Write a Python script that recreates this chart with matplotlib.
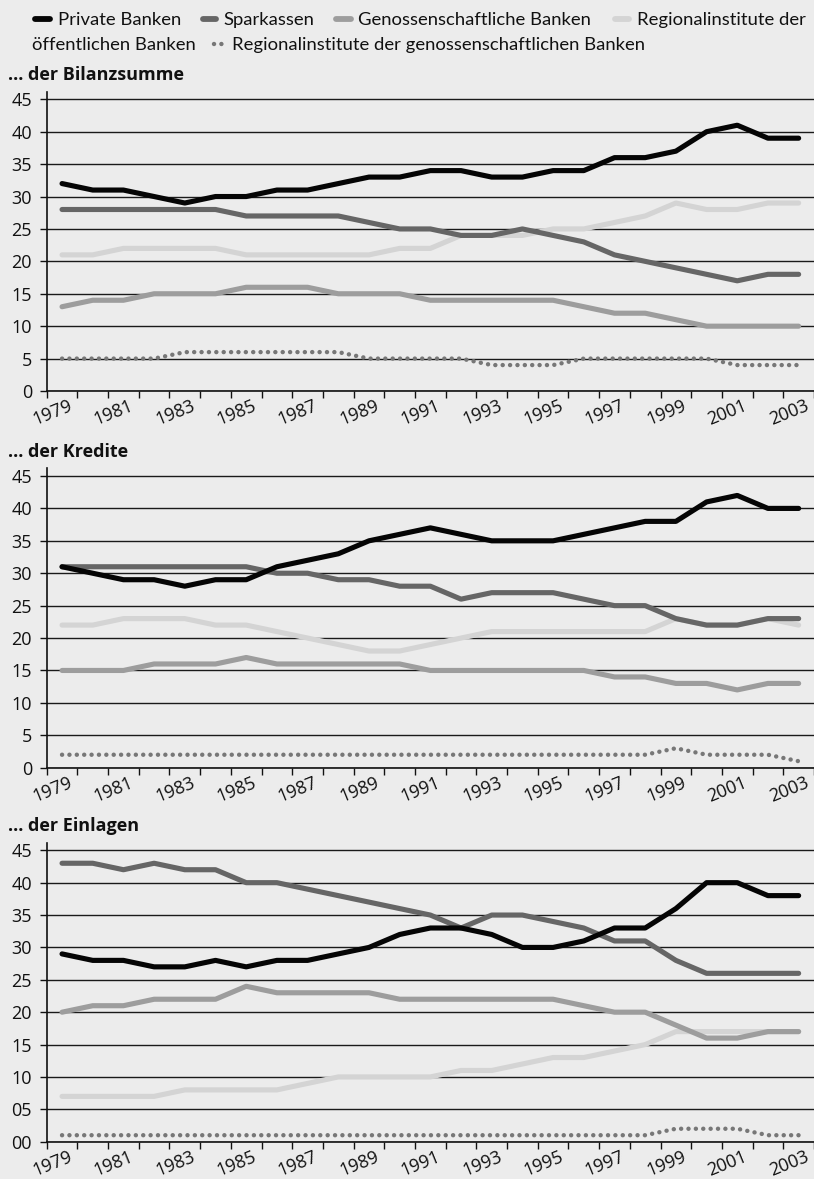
import numpy as np
import matplotlib.pyplot as plt
from matplotlib.lines import Line2D
from matplotlib.transforms import ScaledTranslation

years = [1979, 1980, 1981, 1982, 1983, 1984, 1985, 1986, 1987, 1988, 1989, 1990,
         1991, 1992, 1993, 1994, 1995, 1996, 1997, 1998, 1999, 2000, 2001, 2002, 2003]

names = ["Private Banken", "Sparkassen", "Genossenschaftliche Banken",
         "Regionalinstitute der öffentlichen Banken",
         "Regionalinstitute der genossenschaftlichen Banken"]

# ... der Bilanzsumme
bil_private = [32, 31, 31, 30, 29, 30, 30, 31, 31, 32, 33, 33, 34, 34, 33, 33, 34, 34, 36, 36, 37, 40, 41, 39, 39]
bil_spark = [28, 28, 28, 28, 28, 28, 27, 27, 27, 27, 26, 25, 25, 24, 24, 25, 24, 23, 21, 20, 19, 18, 17, 18, 18]
bil_genos = [13, 14, 14, 15, 15, 15, 16, 16, 16, 15, 15, 15, 14, 14, 14, 14, 14, 13, 12, 12, 11, 10, 10, 10, 10]
bil_reg_oeff = [21, 21, 22, 22, 22, 22, 21, 21, 21, 21, 21, 22, 22, 24, 24, 24, 25, 25, 26, 27, 29, 28, 28, 29, 29]
bil_reg_gen = [5, 5, 5, 5, 6, 6, 6, 6, 6, 6, 5, 5, 5, 5, 4, 4, 4, 5, 5, 5, 5, 5, 4, 4, 4]

# ... der Kredite
kre_private = [31, 30, 29, 29, 28, 29, 29, 31, 32, 33, 35, 36, 37, 36, 35, 35, 35, 36, 37, 38, 38, 41, 42, 40, 40]
kre_spark = [31, 31, 31, 31, 31, 31, 31, 30, 30, 29, 29, 28, 28, 26, 27, 27, 27, 26, 25, 25, 23, 22, 22, 23, 23]
kre_genos = [15, 15, 15, 16, 16, 16, 17, 16, 16, 16, 16, 16, 15, 15, 15, 15, 15, 15, 14, 14, 13, 13, 12, 13, 13]
kre_reg_oeff = [22, 22, 23, 23, 23, 22, 22, 21, 20, 19, 18, 18, 19, 20, 21, 21, 21, 21, 21, 21, 23, 22, 22, 23, 22]
kre_reg_gen = [2, 2, 2, 2, 2, 2, 2, 2, 2, 2, 2, 2, 2, 2, 2, 2, 2, 2, 2, 2, 3, 2, 2, 2, 1]

# ... der Einlagen
ein_private = [29, 28, 28, 27, 27, 28, 27, 28, 28, 29, 30, 32, 33, 33, 32, 30, 30, 31, 33, 33, 36, 40, 40, 38, 38]
ein_spark = [43, 43, 42, 43, 42, 42, 40, 40, 39, 38, 37, 36, 35, 33, 35, 35, 34, 33, 31, 31, 28, 26, 26, 26, 26]
ein_genos = [20, 21, 21, 22, 22, 22, 24, 23, 23, 23, 23, 22, 22, 22, 22, 22, 22, 21, 20, 20, 18, 16, 16, 17, 17]
ein_reg_oeff = [7, 7, 7, 7, 8, 8, 8, 8, 9, 10, 10, 10, 10, 11, 11, 12, 13, 13, 14, 15, 17, 17, 17, 17, 17]
ein_reg_gen = [1, 1, 1, 1, 1, 1, 1, 1, 1, 1, 1, 1, 1, 1, 1, 1, 1, 1, 1, 1, 2, 2, 2, 1, 1]

panels = [
    ("... der Bilanzsumme", [bil_private, bil_spark, bil_genos, bil_reg_oeff, bil_reg_gen]),
    ("... der Kredite", [kre_private, kre_spark, kre_genos, kre_reg_oeff, kre_reg_gen]),
    ("... der Einlagen", [ein_private, ein_spark, ein_genos, ein_reg_oeff, ein_reg_gen]),
]

colors = ["#050505", "#666666", "#9d9d9d", "#d4d4d4", "#777777"]
bg = "#ececec"
W, H = 814, 1179
LW = 3.7
DOT = dict(linestyle=(0, (0.01, 1.65)), dash_capstyle="round", lw=3.2)

fig = plt.figure(figsize=(W / 100, H / 100), dpi=100, facecolor=bg)

# pixel rows: (y of value 0, y of value 45)
rows = [(391, 99.3), (767.7, 476), (1141.7, 850.3)]
x0 = 46.7
ytop = 46.2
x = np.arange(len(years))

for p, ((title, data), (y0, y45)) in enumerate(zip(panels, rows)):
    ppu = (y0 - y45) / 45
    ax = fig.add_axes([x0 / W, (H - y0) / H, (W - x0) / W, ytop * ppu / H])
    ax.set_facecolor(bg)
    for i in reversed(range(len(names))):
        if i == 4:
            ax.plot(x, data[i], color=colors[i], **DOT)
        else:
            ax.plot(x, data[i], color=colors[i], lw=LW,
                    solid_capstyle="round", solid_joinstyle="round")
    ax.set_xlim(-0.5, len(years) - 0.5)
    ax.set_ylim(0, ytop)
    ax.set_yticks(range(0, 46, 5))
    if p == 2:
        ax.set_yticklabels([f"{v:02d}" for v in range(0, 46, 5)])
    ax.yaxis.grid(True, color="#1a1a1a", lw=1.0)
    ax.set_axisbelow(True)
    for s in ["top", "right"]:
        ax.spines[s].set_visible(False)
    for s in ["left", "bottom"]:
        ax.spines[s].set_color("#111111")
        ax.spines[s].set_linewidth(1.2)
    ax.tick_params(axis="y", length=5, width=1, pad=5.5, labelsize=13, colors="#111111")
    ax.set_xticks(np.arange(-0.5, len(years), 1))
    ax.set_xticklabels([])
    ax.set_xticks(x[::2], minor=True)
    ax.set_xticklabels([str(y) for y in years[::2]], minor=True,
                       rotation=22, ha="right", va="top", rotation_mode="anchor")
    ax.tick_params(axis="x", which="major", length=5, width=1, color="#111111")
    ax.tick_params(axis="x", which="minor", length=0, pad=4.3, labelsize=13, labelcolor="#111111")
    off = ScaledTranslation(6 / 100, 0, fig.dpi_scale_trans)
    for lbl in ax.get_xticklabels(minor=True):
        lbl.set_fontfamily("Open Sans")
        lbl.set_transform(lbl.get_transform() + off)
    for lbl in ax.get_yticklabels():
        lbl.set_fontfamily("Open Sans")
    fig.text(8 / W, 1 - (y45 - 19.3) / H, title, fontsize=13, fontweight="bold",
             family="Open Sans", va="baseline", color="#111111")


def fx(px):
    return px / W


def fy(py):
    return 1 - py / H


# legend (wrapped like the original)
handles = [(34.5, 49.5, 19.3), (202.5, 215.5, 19.3), (335.5, 350.5, 19.3), (614.5, 628.5, 19.3),
           (214, 222, 43.5)]
texts = [(58, 25, names[0]), (223, 25, names[1]), (358, 25, names[2]),
         (637, 25, "Regionalinstitute der"), (32, 50, "öffentlichen Banken"),
         (232, 50, names[4])]
for i, (a, b, yy) in enumerate(handles):
    if i == 4:
        ln = Line2D([fx(a), fx(b)], [fy(yy), fy(yy)], transform=fig.transFigure,
                    color=colors[i], **DOT)
    else:
        ln = Line2D([fx(a), fx(b)], [fy(yy), fy(yy)], transform=fig.transFigure,
                    color=colors[i], lw=4.2, solid_capstyle="round")
    fig.add_artist(ln)
for tx, ty, s in texts:
    fig.text(fx(tx), fy(ty), s, fontsize=13.3, family="Lato", va="baseline", color="#111111")

fig.savefig("out.png", dpi=100, facecolor=bg)
